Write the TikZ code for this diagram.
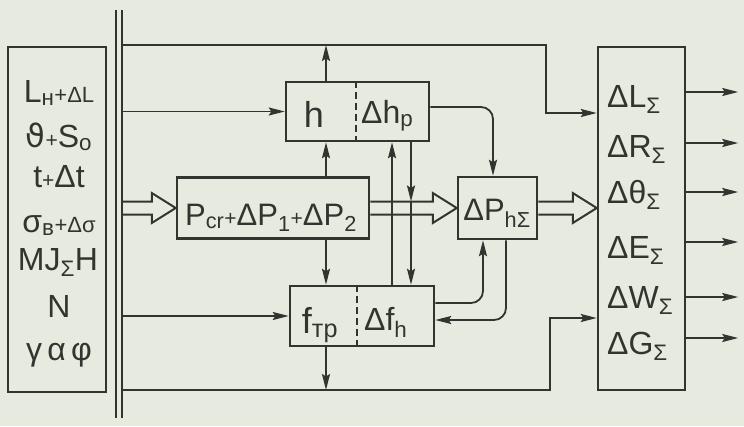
\documentclass[tikz,border=0pt]{standalone}
\usepackage{fontspec}
\setmainfont{Liberation Sans}
\newfontfamily\altgreek{DejaVu Sans}
\usetikzlibrary{arrows.meta,calc}
\definecolor{paper}{HTML}{E7EADF}
\definecolor{ink}{HTML}{30362F}
\newcommand\fs[1]{\fontsize{#1}{#1}\selectfont}
\newcommand\pls{{\fs{21}+}}
% open double-line arrow between two points at the same height
\newcommand\fatarrow[2]{%
  \draw[fat] ($(#1)+(0,-6.5)$) -- ($(#2)+(-24,-6.5)$) -- ($(#2)+(-24,-15)$)
    -- (#2) -- ($(#2)+(-24,15)$) -- ($(#2)+(-24,6.5)$) -- ($(#1)+(0,6.5)$);}

\begin{document}
\begin{tikzpicture}[
  x=1pt,y=-1pt,font=\fs{32},text=ink,
  block/.style={draw=ink,line width=2.5pt,inner sep=0pt},
  entry/.style={inner sep=0pt,anchor=base},
  result/.style={inner sep=0pt,anchor=base west},
  link/.style={draw=ink,line width=1.8pt},
  flow/.style={link,-{Stealth[length=16pt,width=8pt,inset=2.5pt]}},
  fat/.style={link,line width=2pt,line join=miter},
  divider/.style={link,dash pattern=on 7pt off 4pt},
  bus/.style={draw=ink,line width=2.3pt}
]
\path[fill=paper,use as bounding box] (0,0) rectangle (744,426);

% source data
\node[block,minimum width=98pt,minimum height=345pt] (inputs) at (57,219.5) {};
\node[entry] (lh) at (59,102) {L\textsubscript{н}{\fs{22}+ΔL}};
\node[entry] (vs) at (59,147) {{\altgreek ϑ}\pls S\textsubscript{о}};
\node[entry] (tt) at (59,187) {t\pls Δt};
\node[entry] (sg) at (59,232) {σ\textsubscript{в}{\fs{22}+Δσ}};
\node[entry] (mj) at (58,270) {MJ\textsubscript{Σ}H};
\node[entry] (nn) at (59,317) {N};
\node[entry] (ga) at (59,360) {γ\,α\,φ};

\draw[bus] (116,10) -- (116,418);
\draw[bus] (122,10) -- (122,418);
\coordinate (bar) at (122,0);
\coordinate (busA) at (122,45);
\coordinate (busE) at (122,390);

% processing blocks
\node[block,minimum width=192pt,minimum height=61pt] (pbox) at (273,208) {};
\node[entry,font=\fs{31}] (pt) at (271,225) {P\textsubscript{cr}\pls ΔP\textsubscript{1}\pls ΔP\textsubscript{2}};

\node[block,minimum width=143pt,minimum height=59pt] (hbox) at (357.5,111.5) {};
\draw[divider] ($(hbox.north)+(-1.5,0)$) -- ($(hbox.south)+(-1.5,0)$);
\node[entry,font=\fs{36}] (hv) at (314,127) {h};
\node[result,font=\fs{32}] (dh) at (361,123) {Δh\textsubscript{р}};

\node[block,minimum width=144pt,minimum height=60pt] (fbox) at (362,316) {};
\draw[divider] ($(fbox.north)+(-5,0)$) -- ($(fbox.south)+(-5,0)$);
\node[entry,font=\fs{36}] (fv) at (320,333) {f\textsubscript{тр}};
\node[result,font=\fs{32}] (df) at (364,330) {Δf\textsubscript{h}};

\node[block,minimum width=79pt,minimum height=62pt] (dp) at (497.5,208) {};
\node[entry,font=\fs{31}] (dpt) at (497,220) {ΔP\textsubscript{hΣ}};

% increments
\node[block,minimum width=87pt,minimum height=343pt] (rbox) at (641.5,218.5) {};
\foreach \nm/\yb/\ya/\lab in {dL/107/92/L,dR/157/143/R,dT/203/192/θ,
    dE/258/242/E,dW/308/297/W,dG/354/338/G}{
  \node[result,font=\fs{32}] (\nm) at (607,\yb) {Δ\lab\textsubscript{Σ}};
  \draw[flow] ($(rbox.east)+(0,\ya-218.5)$) -- ++(52,0);
}

% connections
\coordinate (colA) at (326,0);
\coordinate (colB) at (392,0);
\coordinate (colC) at (411,0);

\draw[flow] (busA) -| ($(rbox.west)+(-51,-105.5)$) -- ($(rbox.west)+(0,-105.5)$);
\draw[flow] (hbox.north -| colA) -- (busA -| colA);
\draw[flow] (hbox.west -| bar) -- (hbox.west);
\fatarrow{pbox.west -| bar}{pbox.west}
\draw[flow] (fbox.west -| bar) -- (fbox.west);
\draw[flow] (busE) -| ($(rbox.west)+(-47,99.5)$) -- ($(rbox.west)+(0,99.5)$);
\draw[flow] (fbox.south -| colA) -- (busE -| colA);

\draw[flow] (pbox.north -| colA) -- (hbox.south -| colA);
\draw[flow] (pbox.south -| colA) -- (fbox.north -| colA);
\draw[flow] (fbox.north -| colB) -- (hbox.south -| colB);
\draw[flow] (hbox.south -| colC) -- ($(pbox.east -| colC)+(0,-6.5)$);
\draw[flow] ($(pbox.east -| colC)+(0,-6.5)$) -- (fbox.north -| colC);

\fatarrow{pbox.east}{dp.west}
\fatarrow{dp.east}{rbox.west |- dp.east}

\draw[flow,rounded corners=12pt] ($(hbox.east)+(0,-4.5)$) -| ($(dp.north)+(-4.5,0)$);
\draw[flow,rounded corners=12pt] ($(fbox.east)+(0,-13)$) -| ($(dp.south)+(-14.5,0)$);
\draw[flow,rounded corners=12pt] ($(dp.south)+(8.5,0)$) |- ($(fbox.east)+(0,4)$);
\end{tikzpicture}
\end{document}
